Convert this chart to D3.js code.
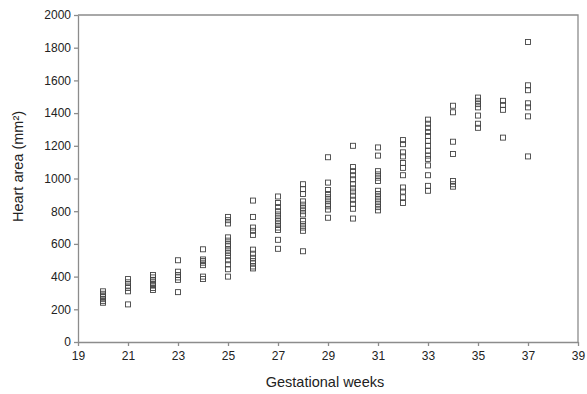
<!DOCTYPE html>
<html>
<head>
<meta charset="utf-8">
<script src="https://cdn.jsdelivr.net/npm/d3@7"></script>
<style>
  html, body { margin: 0; padding: 0; background: #fff; }
  svg { display: block; font-family: "Liberation Sans", Arial, sans-serif; }
</style>
</head>
<body>
<svg id="chart" width="587" height="394"></svg>
<script>
// Heart area measurements by gestational week
const weeks = [20, 21, 22, 23, 24, 25, 26, 27, 28, 29, 30, 31, 32, 33, 34, 35, 36, 37];
const heartArea = [
  [240, 250, 262, 275, 285, 295, 310],
  [385, 365, 345, 330, 310, 230],
  [410, 395, 380, 370, 355, 345, 330, 318],
  [500, 430, 410, 395, 380, 305],
  [567, 505, 495, 485, 470, 400, 385],
  [765, 745, 725, 640, 620, 600, 585, 565, 545, 525, 500, 475, 445, 400],
  [865, 765, 700, 680, 655, 565, 540, 515, 495, 480, 462, 450],
  [890, 850, 825, 800, 780, 760, 740, 720, 700, 685, 625, 570],
  [965, 935, 905, 860, 840, 820, 800, 780, 740, 720, 700, 680, 555],
  [1130, 975, 930, 905, 885, 865, 845, 830, 810, 760],
  [1200, 1070, 1045, 1020, 995, 965, 940, 920, 895, 870, 845, 815, 755],
  [1190, 1140, 1045, 1025, 1005, 985, 925, 905, 885, 865, 845, 825, 805],
  [1235, 1210, 1160, 1135, 1095, 1065, 1020, 945, 920, 885, 850],
  [1360, 1335, 1310, 1285, 1260, 1230, 1200, 1170, 1140, 1120, 1080, 1020, 955, 925],
  [1445, 1405, 1225, 1150, 985, 965, 950],
  [1495, 1475, 1455, 1435, 1385, 1335, 1310],
  [1475, 1450, 1420, 1250],
  [1835, 1570, 1540, 1460, 1435, 1380, 1135]
];
const xTicks = [19, 21, 23, 25, 27, 29, 31, 33, 35, 37, 39];
const yTicks = [0, 200, 400, 600, 800, 1000, 1200, 1400, 1600, 1800, 2000];
const xTitle = "Gestational weeks";
const yTitle = "Heart area (mm²)";

const points = [];
weeks.forEach((w, i) => heartArea[i].forEach(v => points.push({ week: w, area: v })));

const svg = d3.select("#chart");
const plotLeft = 78, plotRight = 578, plotTop = 15, plotBottom = 342;
const axisColor = "#8c8c8c";

const x = d3.scaleLinear().domain([19, 39]).range([plotLeft, plotRight]);
const y = d3.scaleLinear().domain([0, 2000]).range([plotBottom, plotTop]);

// plot frame (top and right edges)
svg.append("path")
  .attr("d", `M${plotLeft},${plotTop}H${plotRight}V${plotBottom}`)
  .attr("fill", "none")
  .attr("stroke", axisColor)
  .attr("stroke-width", 1.3);

const xAxis = svg.append("g")
  .attr("transform", `translate(0,${plotBottom})`)
  .call(d3.axisBottom(x).tickValues(xTicks).tickSize(4).tickSizeOuter(0).tickFormat(d3.format("d")));
const yAxis = svg.append("g")
  .attr("transform", `translate(${plotLeft},0)`)
  .call(d3.axisLeft(y).tickValues(yTicks).tickSize(4).tickSizeOuter(0).tickFormat(d3.format("d")));

[xAxis, yAxis].forEach(g => {
  g.select(".domain").attr("stroke", axisColor).attr("stroke-width", 1.3);
  g.selectAll(".tick line").attr("stroke", axisColor).attr("stroke-width", 1.3);
  g.selectAll(".tick text")
    .attr("fill", "#222")
    .style("font-size", "12px")
    .style("font-family", "'Liberation Sans', Arial, sans-serif");
});
xAxis.selectAll(".tick text").attr("dy", "0.9em");
yAxis.selectAll(".tick text").attr("x", -7);

// axis titles
svg.append("text")
  .attr("x", (plotLeft + plotRight) / 2 - 3)
  .attr("y", 387)
  .attr("text-anchor", "middle")
  .attr("fill", "#222")
  .style("font-size", "14.5px")
  .text(xTitle);

svg.append("text")
  .attr("transform", `translate(23,${(plotTop + plotBottom) / 2 - 12}) rotate(-90)`)
  .attr("text-anchor", "middle")
  .attr("fill", "#222")
  .style("font-size", "14.5px")
  .text(yTitle);

// hollow square markers
const s = 5;
svg.append("g")
  .selectAll("rect")
  .data(points)
  .join("rect")
  .attr("x", d => x(d.week) - s / 2)
  .attr("y", d => y(d.area) - s / 2)
  .attr("width", s)
  .attr("height", s)
  .attr("fill", "none")
  .attr("stroke", "#444")
  .attr("stroke-width", 0.9);
</script>
</body>
</html>
